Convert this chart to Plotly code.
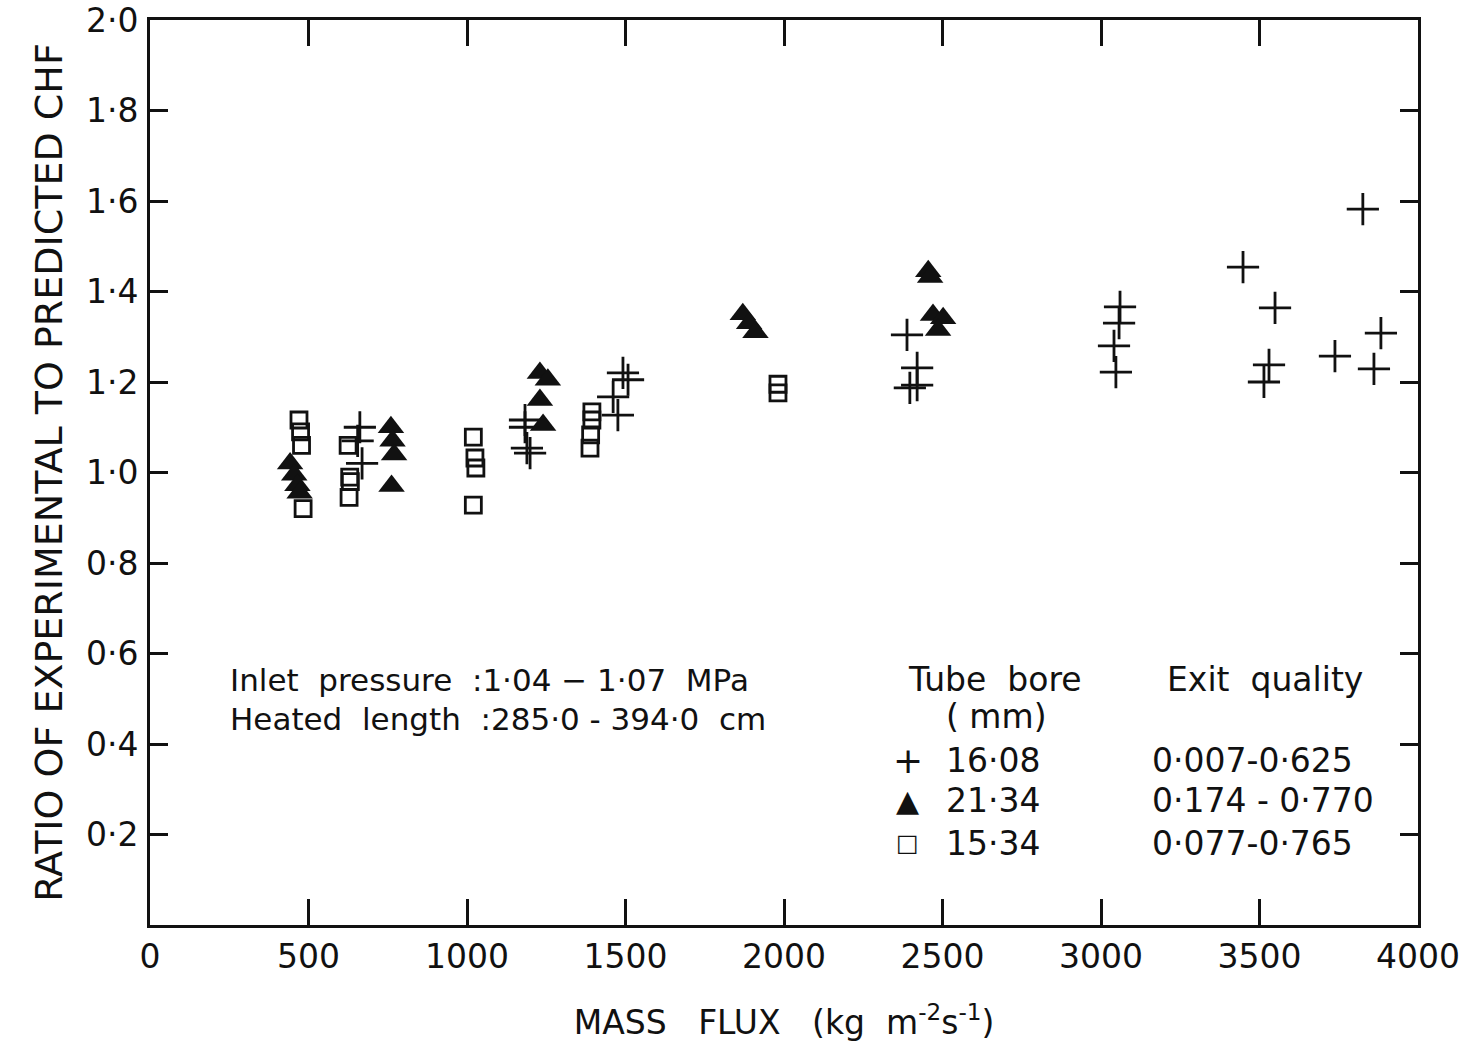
import plotly.graph_objects as go

# ---- data ----
plus_x = [655, 662, 669, 1183, 1183, 1189, 1199, 1461, 1476, 1492, 1508,
          2388, 2420, 2420, 2397, 3041, 3047, 3057, 3060,
          3448, 3514, 3530, 3549, 3738, 3826, 3861, 3883]
plus_y = [1.07, 1.10, 1.02, 1.116, 1.10, 1.054, 1.043, 1.167, 1.127, 1.22, 1.205,
          1.304, 1.231, 1.193, 1.187, 1.28, 1.222, 1.33, 1.366,
          1.454, 1.20, 1.238, 1.364, 1.257, 1.582, 1.229, 1.308]

tri_x = [442, 455, 465, 472, 760, 765, 770, 762, 1230, 1255, 1230, 1240,
         1870, 1890, 1910, 2455, 2461, 2470, 2502, 2486]
tri_y = [1.02, 0.995, 0.972, 0.955, 1.10, 1.07, 1.04, 0.97, 1.22, 1.205, 1.16, 1.105,
         1.35, 1.33, 1.31, 1.445, 1.432, 1.348, 1.341, 1.315]

sq_x = [470, 475, 478, 483, 625, 630, 632, 628, 1020, 1025, 1028, 1020,
        1394, 1394, 1390, 1388, 1981, 1981]
sq_y = [1.116, 1.09, 1.06, 0.92, 1.06, 0.99, 0.98, 0.945, 1.078, 1.032, 1.01, 0.928,
        1.134, 1.116, 1.083, 1.054, 1.195, 1.176]

x_ticks = [0, 500, 1000, 1500, 2000, 2500, 3000, 3500, 4000]
x_tick_text = ["0", "500", "1000", "1500", "2000", "2500", "3000", "3500", "4000"]
y_ticks = [0.2, 0.4, 0.6, 0.8, 1.0, 1.2, 1.4, 1.6, 1.8, 2.0]
y_tick_text = ["0·2", "0·4", "0·6", "0·8", "1·0", "1·2", "1·4", "1·6", "1·8", "2·0"]

legend_bore = ["16·08", "21·34", "15·34"]
legend_quality = ["0·007-0·625", "0·174 - 0·770", "0·077-0·765"]
legend_symbols = ["+", "▲", "□"]

FONT = "DejaVu Sans"
BLACK = "#111"

fig = go.Figure()
fig.add_trace(go.Scatter(x=plus_x, y=plus_y, mode="markers",
                         marker=dict(symbol="cross-thin", size=23,
                                     line=dict(width=2.8, color=BLACK), color=BLACK)))
fig.add_trace(go.Scatter(x=tri_x, y=tri_y, mode="markers",
                         marker=dict(symbol="triangle-up", size=23, color=BLACK,
                                     line=dict(width=0))))
fig.add_trace(go.Scatter(x=sq_x, y=sq_y, mode="markers",
                         marker=dict(symbol="square-open", size=16,
                                     line=dict(width=2.8, color=BLACK), color=BLACK)))

axis_common = dict(showgrid=False, zeroline=False, showline=True, linecolor=BLACK,
                   linewidth=3, mirror="allticks", ticks="inside", tickcolor=BLACK,
                   tickwidth=2.5, automargin=False,
                   tickfont=dict(family=FONT, size=33, color=BLACK))

fig.update_xaxes(range=[0, 4000], tickvals=x_ticks, ticktext=x_tick_text,
                 ticklen=26, ticklabelstandoff=0,
                 title=dict(text="MASS   FLUX   (kg  m<sup>-2</sup>s<sup>-1</sup>)",
                            font=dict(family=FONT, size=33, color=BLACK), standoff=44),
                 **axis_common)
fig.update_yaxes(range=[0, 2.0], tickvals=y_ticks, ticktext=y_tick_text,
                 ticklen=18, ticklabelstandoff=2,
                 title=dict(text="RATIO OF EXPERIMENTAL TO PREDICTED CHF",
                            font=dict(family=FONT, size=38, color=BLACK), standoff=12),
                 **axis_common)

ann = []
tf = dict(family=FONT, size=33, color=BLACK)
tf2 = dict(family=FONT, size=31, color=BLACK)
ann.append(dict(x=228, y=680, text="Inlet  pressure  :1·04 − 1·07  MPa",
                showarrow=False, xanchor="left", yanchor="middle", font=tf2))
ann.append(dict(x=228, y=719, text="Heated  length  :285·0 - 394·0  cm",
                showarrow=False, xanchor="left", yanchor="middle", font=tf2))
ann.append(dict(x=995, y=679, text="Tube  bore", showarrow=False,
                xanchor="center", yanchor="middle", font=tf))
ann.append(dict(x=997, y=716, text="( mm)", showarrow=False,
                xanchor="center", yanchor="middle", font=tf))
ann.append(dict(x=1265, y=679, text="Exit  quality", showarrow=False,
                xanchor="center", yanchor="middle", font=tf))
rows_y = [760, 800, 843]
for sym, bore, q, ry in zip(legend_symbols, legend_bore, legend_quality, rows_y):
    ann.append(dict(x=908, y=ry, text=sym, showarrow=False, xanchor="center",
                    yanchor="middle",
                    font=dict(family=FONT, size={"+": 36, "▲": 30, "□": 24}[sym], color=BLACK)))
    ann.append(dict(x=944, y=ry, text=bore, showarrow=False, xanchor="left",
                    yanchor="middle", font=tf))
    ann.append(dict(x=1150, y=ry, text=q, showarrow=False, xanchor="left",
                    yanchor="middle", font=tf))

# convert pixel positions to paper coords
L, R, T, B = 150, 1418, 20, 925
for a in ann:
    a["xref"] = "paper"
    a["yref"] = "paper"
    a["x"] = (a["x"] - L) / (R - L)
    a["y"] = (B - a["y"]) / (B - T)

fig.update_layout(width=1467, height=1042, showlegend=False,
                  plot_bgcolor="white", paper_bgcolor="white",
                  margin=dict(l=L, r=1467 - R, t=T, b=1042 - B),
                  annotations=ann,
                  font=dict(family=FONT, color=BLACK))

fig.write_html("out.html")
